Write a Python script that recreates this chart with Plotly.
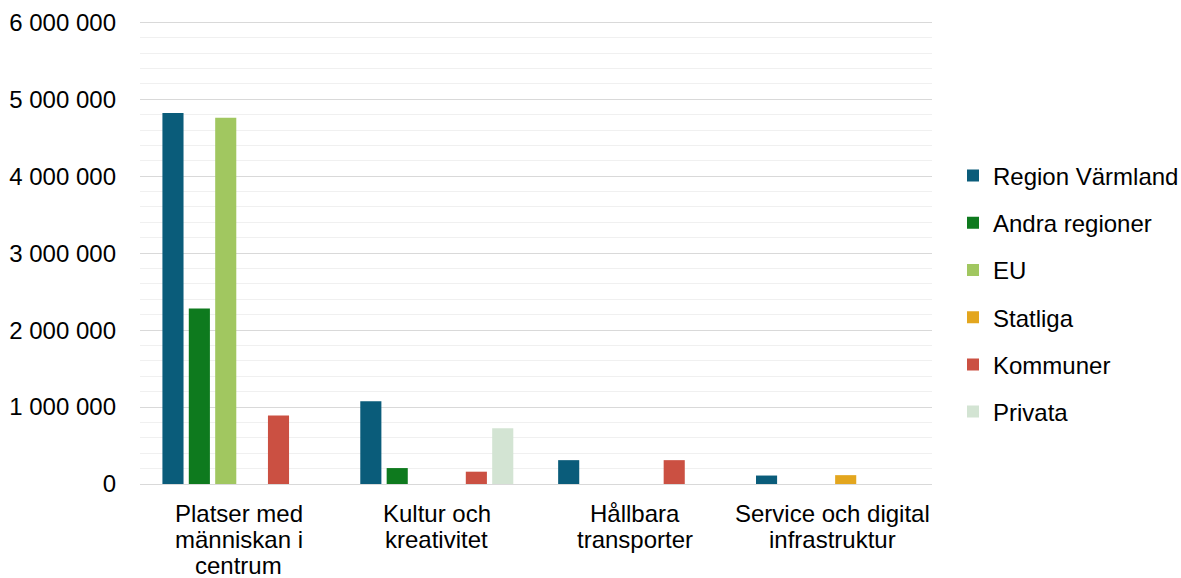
import plotly.graph_objects as go

categories = ["Platser med<br>människan i<br>centrum", "Kultur och<br>kreativitet", "Hållbara<br>transporter", "Service och digital<br>infrastruktur"]
series_names = ["Region Värmland", "Andra regioner", "EU", "Statliga", "Kommuner", "Privata"]
region_varmland = [4820000, 1075000, 310000, 110000]
andra_regioner = [2280000, 207000, 0, 0]
eu = [4760000, 0, 0, 0]
statliga = [0, 0, 0, 115000]
kommuner = [890000, 160000, 310000, 0]
privata = [0, 725000, 0, 0]
series_values = [region_varmland, andra_regioner, eu, statliga, kommuner, privata]
colors = ["#0A5C7A", "#0E7A1E", "#A1C760", "#E3A61E", "#CB5042", "#D3E4D3"]
tick_vals = [0, 1000000, 2000000, 3000000, 4000000, 5000000, 6000000]
tick_text = ["0", "1 000 000", "2 000 000", "3 000 000", "4 000 000", "5 000 000", "6 000 000"]

FONT = "Liberation Sans, Arial, sans-serif"
FS = 24

fig = go.Figure()
for i, (name, vals, col) in enumerate(zip(series_names, series_values, colors)):
    fig.add_trace(go.Bar(x=categories, y=vals, name=name, marker=dict(color=col, line=dict(width=0)),
                         legendgroup=f"g{i}"))

# category labels as annotations (tighter line spacing than tick labels allow)
annotations = []
for cat in categories:
    for k, line in enumerate(cat.split("<br>")):
        annotations.append(dict(x=cat, y=0, xref="x", yref="y", text=line, showarrow=False,
                                xanchor="center", yanchor="middle", yshift=-(29 + 26 * k),
                                font=dict(family=FONT, size=FS, color="#000000")))

fig.update_layout(
    width=1181, height=578,
    margin=dict(l=140, r=249, t=20, b=94, autoexpand=False),
    paper_bgcolor="white", plot_bgcolor="white",
    font=dict(family=FONT, size=FS, color="#000000"),
    barmode="group", bargap=0.2, bargroupgap=0.2,
    legend=dict(xref="container", yref="container", x=953 / 1181, xanchor="left",
                y=1 - 294 / 578, yanchor="middle",
                traceorder="grouped", tracegroupgap=13,
                font=dict(family=FONT, size=FS, color="#000000"),
                itemwidth=30, bgcolor="rgba(0,0,0,0)"),
    xaxis=dict(showgrid=False, showline=False, ticks="", showticklabels=False, automargin=False),
    yaxis=dict(range=[0, 6030000], tickvals=tick_vals, ticktext=tick_text, automargin=False,
               showgrid=True, gridcolor="#D9D9D9", gridwidth=1,
               zeroline=True, zerolinecolor="#D9D9D9", zerolinewidth=1,
               showline=False, ticks="", ticklabelstandoff=23,
               minor=dict(dtick=200000, showgrid=True, gridcolor="#F0F0F0", gridwidth=1),
               tickfont=dict(size=FS)),
    annotations=annotations,
    showlegend=True,
)

fig.write_html("out.html", config={"displayModeBar": False},
               post_script="document.body.style.margin='0';")
